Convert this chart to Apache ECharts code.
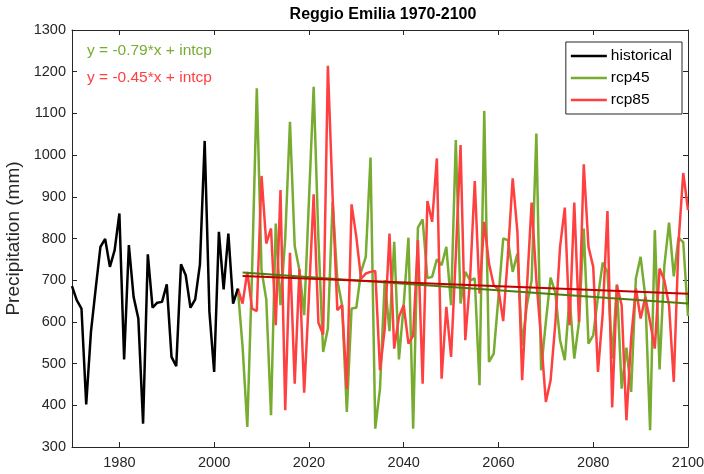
<!DOCTYPE html>
<html>
<head>
<meta charset="utf-8">
<script src="https://cdn.jsdelivr.net/npm/echarts@6/dist/echarts.min.js"></script>
<style>
  html, body { margin: 0; padding: 0; background: #ffffff; }
  #chart { width: 704px; height: 474px; }
</style>
</head>
<body>
<div id="chart"></div>
<script>
// Annual precipitation (mm), Reggio Emilia
const histStartYear = 1970;
const historical = [
  686, 652, 632, 402, 576, 680, 780, 799, 732, 772,
  860, 510, 784, 660, 608, 356, 762, 634, 646, 648,
  690, 516, 494, 738, 712, 634, 654, 738, 1034, 624,
  480, 816, 678, 812, 644, 680
];

const scenStartYear = 2006;
const rcp45 = [
  540, 348, 720, 1160, 724, 654, 376, 836, 640, 800,
  1080, 782, 724, 616, 890, 1164, 800, 528, 584, 888,
  700, 640, 384, 632, 634, 720, 756, 994, 344, 440,
  700, 578, 792, 510, 640, 802, 344, 826, 846, 705,
  708, 750, 736, 780, 640, 1036, 644, 720, 700, 704,
  448, 1106, 504, 524, 660, 800, 796, 720, 764, 544,
  640, 700, 1052, 484, 600, 706, 670, 556, 508, 660,
  512, 600, 824, 548, 568, 660, 742, 720, 512, 690,
  440, 538, 432, 704, 756, 660, 340, 820, 486, 734,
  838, 709, 802, 791, 614
];
const rcp85 = [
  644, 720, 632, 626, 950, 788, 824, 592, 916, 388,
  766, 452, 726, 430, 660, 906, 598, 570, 1214, 900,
  628, 640, 440, 882, 804, 704, 716, 720, 722, 484,
  584, 812, 536, 612, 640, 548, 567, 796, 452, 890,
  840, 992, 464, 636, 516, 760, 1024, 556, 700, 938,
  668, 840, 740, 688, 678, 602, 760, 944, 816, 460,
  680, 886, 700, 560, 408, 460, 596, 780, 874, 592,
  886, 600, 978, 780, 732, 480, 620, 866, 395, 688,
  640, 364, 560, 680, 608, 660, 600, 536, 728, 700,
  640, 456, 790, 957, 868
];

// Linear trend slopes (mm per year) shown in the annotations
const slope45 = -0.79;
const slope85 = -0.45;

const xTicks = [1980, 2000, 2020, 2040, 2060, 2080, 2100];

const COLORS = {
  hist: '#000000',
  rcp45: '#77AC30',
  rcp85: '#FF4040',
  trend45: '#4C7D0C',
  trend85: '#C00000',
  axis: '#262626'
};

function toPairs(startYear, values) {
  return values.map((v, i) => [startYear + i, v]);
}

// Least-squares intercept for a line of fixed slope through the data
function trendLine(startYear, values, slope) {
  const n = values.length;
  const years = values.map((_, i) => startYear + i);
  const my = years.reduce((a, b) => a + b, 0) / n;
  const mv = values.reduce((a, b) => a + b, 0) / n;
  const intercept = mv - slope * my;
  const x0 = years[0], x1 = years[n - 1];
  return [[x0, slope * x0 + intercept], [x1, slope * x1 + intercept]];
}

const histPairs = toPairs(histStartYear, historical);
const lastHist = histPairs[histPairs.length - 1];
// Scenario runs continue from the last observed year
const rcp45Pairs = [lastHist].concat(toPairs(scenStartYear, rcp45));
const rcp85Pairs = [lastHist].concat(toPairs(scenStartYear, rcp85));

const FONT = 'Liberation Sans, Arial, sans-serif';
const plain = v => String(v);

const chart = echarts.init(document.getElementById('chart'), null, { renderer: 'canvas' });

const lineSeries = (name, data, color, width, z) => ({
  name, type: 'line', data, showSymbol: false, symbol: 'none',
  lineStyle: { color, width }, itemStyle: { color },
  animation: false, z, silent: true
});

chart.setOption({
  animation: false,
  backgroundColor: '#ffffff',
  title: {
    text: 'Reggio Emilia 1970-2100',
    left: 378, top: 2, textAlign: 'center',
    textStyle: { fontFamily: FONT, fontSize: 16, fontWeight: 'bold', color: '#000000' }
  },
  grid: { left: 72, right: 16, top: 30, bottom: 27, containLabel: false, outerBoundsMode: 'none' },
  legend: {
    data: ['historical', 'rcp45', 'rcp85'],
    right: 22, top: 42,
    orient: 'vertical',
    icon: 'rect',
    itemWidth: 36, itemHeight: 2.5, itemGap: 6,
    padding: [6, 10, 6, 5],
    backgroundColor: '#ffffff',
    borderColor: COLORS.axis, borderWidth: 1, borderRadius: 0,
    textStyle: { fontFamily: FONT, fontSize: 15.5, color: '#000000', padding: [0, 0, 0, -1] }
  },
  xAxis: [
    {
      type: 'value', min: 1970, max: 2100,
      axisLine: { show: true, lineStyle: { color: COLORS.axis, width: 1 } },
      axisTick: { show: true, inside: true, length: 5, customValues: xTicks, lineStyle: { color: COLORS.axis } },
      axisLabel: { customValues: xTicks, formatter: plain, color: COLORS.axis, fontFamily: FONT, fontSize: 14.5, margin: 8 },
      splitLine: { show: false }
    },
    {
      type: 'value', min: 1970, max: 2100, position: 'top',
      axisLine: { show: true, lineStyle: { color: COLORS.axis, width: 1 } },
      axisTick: { show: true, inside: true, length: 5, customValues: xTicks, lineStyle: { color: COLORS.axis } },
      axisLabel: { show: false },
      splitLine: { show: false }
    }
  ],
  yAxis: [
    {
      type: 'value', min: 300, max: 1300, interval: 100,
      name: 'Precipitation (mm)', nameLocation: 'middle', nameGap: 44, nameRotate: 90,
      nameTextStyle: { fontFamily: FONT, fontSize: 19, color: COLORS.axis },
      axisLine: { show: true, lineStyle: { color: COLORS.axis, width: 1 } },
      axisTick: { show: true, inside: true, length: 5, lineStyle: { color: COLORS.axis } },
      axisLabel: { formatter: plain, color: COLORS.axis, fontFamily: FONT, fontSize: 14.5, margin: 6 },
      splitLine: { show: false }
    },
    {
      type: 'value', min: 300, max: 1300, interval: 100, position: 'right',
      axisLine: { show: true, lineStyle: { color: COLORS.axis, width: 1 } },
      axisTick: { show: true, inside: true, length: 5, lineStyle: { color: COLORS.axis } },
      axisLabel: { show: false },
      splitLine: { show: false }
    }
  ],
  graphic: [
    {
      type: 'text', left: 87, top: 43, silent: true,
      style: { text: 'y = -0.79*x + intcp', fill: COLORS.rcp45, font: '15.5px ' + FONT }
    },
    {
      type: 'text', left: 87, top: 70, silent: true,
      style: { text: 'y = -0.45*x + intcp', fill: COLORS.rcp85, font: '15.5px ' + FONT }
    }
  ],
  series: [
    lineSeries('historical', histPairs, COLORS.hist, 2.5, 5),
    lineSeries('rcp45', rcp45Pairs, COLORS.rcp45, 2.5, 3),
    lineSeries('rcp85', rcp85Pairs, COLORS.rcp85, 2.5, 4),
    lineSeries('trend45', trendLine(scenStartYear, rcp45, slope45), COLORS.trend45, 2, 6),
    lineSeries('trend85', trendLine(scenStartYear, rcp85, slope85), COLORS.trend85, 2, 7)
  ]
});
</script>
</body>
</html>
